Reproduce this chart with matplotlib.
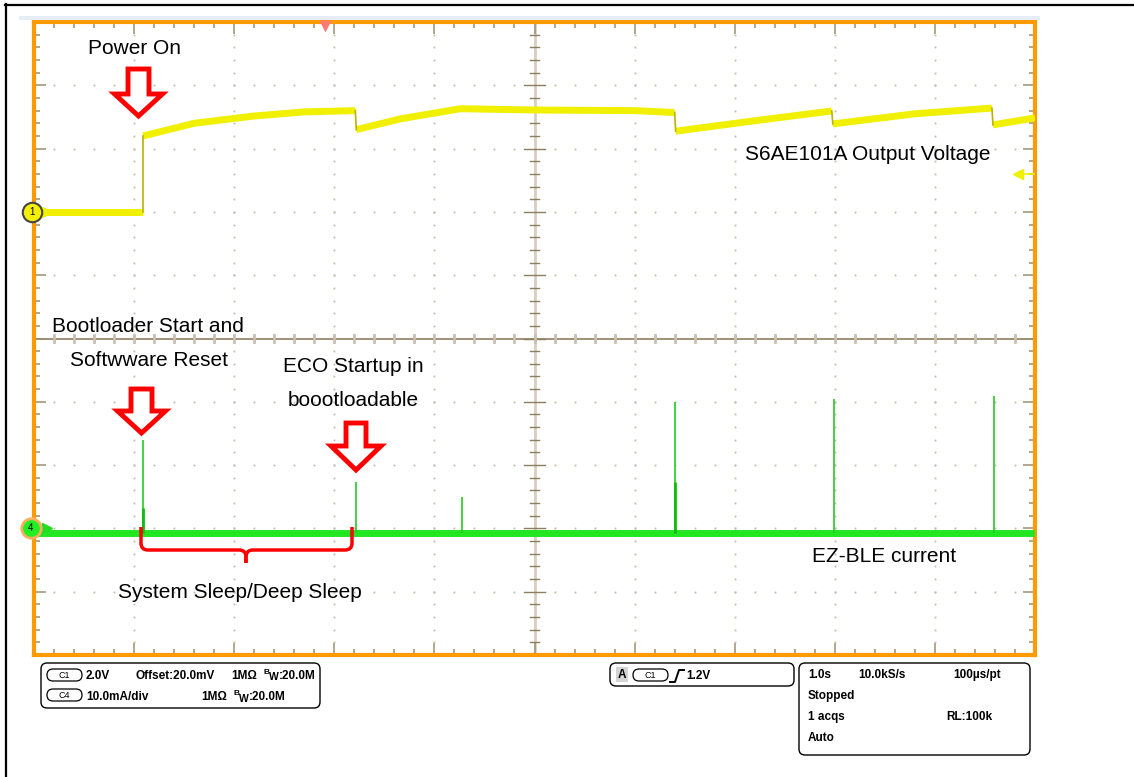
import matplotlib
matplotlib.use("Agg")
import matplotlib.pyplot as plt
import numpy as np
from matplotlib.patches import FancyBboxPatch, Polygon, Rectangle, PathPatch
from matplotlib.path import Path

plt.rcParams['font.family'] = ['Liberation Sans', 'DejaVu Sans']

# channel 1: output voltage (s, V) - repeated times mark the steps
ch1_t = [0.0, 1.09, 1.09, 1.6, 2.2, 2.7, 3.21, 3.22, 3.66, 4.26, 5.0, 6.0, 6.40,
         6.41, 7.2, 7.97, 7.98, 8.8, 9.57, 9.58, 10.0]
ch1_v = [0.0, 0.0, 2.40, 2.80, 3.03, 3.16, 3.20, 2.60, 2.94, 3.26, 3.22, 3.20, 3.14,
         2.55, 2.88, 3.19, 2.78, 3.10, 3.28, 2.75, 2.97]

# channel 4: EZ-BLE current (mA)
ch4_base = -0.8
spike_t = [1.09, 3.22, 4.28, 6.40, 7.99, 9.59]
spike_peak = [13.9, 7.3, 4.9, 20.0, 20.4, 20.9]
spike_body = [3.3, 0.0, 0.0, 7.3, 0.0, 0.0]

ch1_scale, ch1_pos = 2.0, 2.0     # V/div, div above centre
ch4_scale, ch4_pos = 10.0, -3.0   # mA/div

def v_div(v):
    return np.asarray(v) / ch1_scale + ch1_pos

def i_div(i):
    return np.asarray(i) / ch4_scale + ch4_pos

W, H = 1134, 777
fig = plt.figure(figsize=(W / 100, H / 100), dpi=100)
ax = fig.add_axes([34 / W, 1 - 655 / H, 1001 / W, 633 / H])
ax.set_xlim(0, 10)
ax.set_ylim(-5, 5)

# graticule
ax.set_xticks(np.arange(0, 11, 1))
ax.set_xticks(np.arange(0, 10.01, 0.2), minor=True)
ax.set_yticks(np.arange(-5, 6, 1))
ax.set_yticks(np.arange(-5, 5.01, 0.2), minor=True)
ax.tick_params(which='both', direction='in', top=True, right=True,
               labelbottom=False, labelleft=False, color='#9c8f70', width=1.1)
ax.tick_params(which='major', length=8.5)
ax.tick_params(which='minor', length=4.5)
for s in ax.spines.values():
    s.set_color('#ff9a00')
    s.set_linewidth(3)

dot_c = '#c4bca8'
ys = np.arange(-4.8, 4.81, 0.2)
xs = np.arange(0.2, 9.81, 0.2)
for gx in [1, 2, 3, 4, 6, 7, 8, 9]:
    ax.plot(np.full_like(ys, gx), ys, 's', ms=1.3, color=dot_c, mec='none')
for gy in [-4, -3, -2, -1, 1, 2, 3, 4]:
    ax.plot(xs, np.full_like(xs, gy), 's', ms=1.3, color=dot_c, mec='none')
ax.axvline(5, color='#d6cfc0', lw=2, zorder=1)
ax.axhline(0, color='#8c7f60', lw=1.2, zorder=1)
for yy in np.arange(-4.8, 4.81, 0.2):
    hw = 0.1 if abs(yy - round(yy)) < 1e-6 else 0.045
    ax.plot([5 - hw, 5 + hw], [yy, yy], color='#8c7f60', lw=1)
for xx in np.arange(0.2, 9.81, 0.2):
    ax.plot([xx, xx], [-0.05, 0.05], color='#c8c0b0', lw=2)

# channel 1 trace: thick band segments, thin steps
t1 = np.array(ch1_t)
y1 = v_div(ch1_v)
cuts = np.where(np.diff(t1) < 0.015)[0] + 1
start = 0
for c in list(cuts) + [len(t1)]:
    ax.plot(t1[start:c], y1[start:c], color='#f0f000', lw=5, solid_capstyle='butt', zorder=4)
    start = c
for c in cuts:
    ax.plot(t1[c - 1:c + 1], y1[c - 1:c + 1], color='#b8b400', lw=1.2, zorder=4)

# channel 4 trace
ax.plot([0, 10], i_div([ch4_base, ch4_base]), color='#22e622', lw=5,
        solid_capstyle='butt', zorder=4)
ax.vlines(spike_t, i_div(ch4_base), i_div(spike_peak), color='#22cc22', lw=1.2, zorder=4)
for st, sb in zip(spike_t, spike_body):
    if sb > 0:
        ax.vlines(st, i_div(ch4_base), i_div(sb), color='#11bb11', lw=2, zorder=4)

# channel markers
ax.plot([0.0, 0.13], [ch1_pos - 0.05, ch1_pos], color='#333333', lw=0.8, clip_on=False, zorder=5)
ax.plot(-0.02, ch1_pos, 'o', ms=14, mfc='#f5f000', mec='#444444', mew=1.5,
        clip_on=False, zorder=6)
ax.text(-0.02, ch1_pos, '1', ha='center', va='center', fontsize=7, zorder=7)
ax.plot(0.13, ch1_pos, '>', ms=7, color='#f0f000', clip_on=False, zorder=5)
ax.plot([0.0, 0.13], [ch4_pos - 0.05, ch4_pos], color='#333333', lw=0.8, clip_on=False, zorder=5)
ax.plot(-0.03, ch4_pos, 'o', ms=14, mfc='#22ee22', mec='#f5b060', mew=2,
        clip_on=False, zorder=6)
ax.text(-0.03, ch4_pos, '4', ha='center', va='center', fontsize=7, zorder=7)
ax.plot(0.13, ch4_pos, '>', ms=7, color='#22dd22', clip_on=False, zorder=5)

# trigger markers
ax.plot(9.83, v_div(1.2), '<', ms=7, color='#f0f000', zorder=5)
ax.plot([9.83, 10], [v_div(1.2)] * 2, color='#f0f000', lw=1.2, zorder=5)
ax.plot(2.91, 4.93, 'v', ms=8, color='#ff7a70', mec='none', clip_on=False, zorder=5)

# overlay in pixel coordinates
ov = fig.add_axes([0, 0, 1, 1], zorder=3)
ov.set_xlim(0, W)
ov.set_ylim(H, 0)
ov.axis('off')
ov.patch.set_visible(False)

ov.plot([5.5, 5.5], [4, H], color='black', lw=1.6)
ov.plot([5, W], [4.5, 4.5], color='black', lw=1.6)
ov.add_patch(Rectangle((19, 16), 1021, 4, color='#e6edf4', lw=0))


def hollow_arrow(xc, y_tip, y_top, head_h, shaft_hw, head_hw):
    pts = [(xc - shaft_hw, y_top), (xc + shaft_hw, y_top), (xc + shaft_hw, y_tip - head_h),
           (xc + head_hw, y_tip - head_h), (xc, y_tip), (xc - head_hw, y_tip - head_h),
           (xc - shaft_hw, y_tip - head_h)]
    ov.add_patch(Polygon(pts, closed=True, fc='white', ec='#ff0000', lw=3.5, joinstyle='miter'))


hollow_arrow(138.5, 116, 69, 22, 10.5, 24)
hollow_arrow(141.5, 433, 389, 22, 10.5, 24)
hollow_arrow(356, 470, 423, 24, 10, 25)

# bracket
x0, x1, xc, ytop, ymid, ybot = 141, 352, 246, 527, 550, 563
r = 7
for sgn, xe in [(1, x0), (-1, x1)]:
    verts = [(xe, ytop), (xe, ymid - r), (xe, ymid), (xe + sgn * r, ymid),
             (xc - sgn * r, ymid), (xc, ymid), (xc, ymid + r), (xc, ybot)]
    codes = [Path.MOVETO, Path.LINETO, Path.CURVE3, Path.CURVE3,
             Path.LINETO, Path.CURVE3, Path.CURVE3, Path.LINETO]
    ov.add_patch(PathPatch(Path(verts, codes), fc='none', ec='#ff0000', lw=2.5))

fs = 15
ov.text(134, 49, 'Power On', fontsize=fs, ha='center', va='center')
ov.text(745, 155, 'S6AE101A Output Voltage', fontsize=fs, va='center')
ov.text(52, 326, 'Bootloader Start and', fontsize=fs, va='center')
ov.text(70, 360, 'Softwware Reset', fontsize=fs, va='center')
ov.text(353, 366, 'ECO Startup in', fontsize=fs, ha='center', va='center')
ov.text(353, 400, 'boootloadable', fontsize=fs, ha='center', va='center')
ov.text(812, 556, 'EZ-BLE current', fontsize=fs, va='center')
ov.text(118, 593, 'System Sleep/Deep Sleep', fontsize=fs, va='center')

# status boxes
def box(x, y, w, h):
    ov.add_patch(FancyBboxPatch((x, y), w, h, boxstyle='round,pad=0,rounding_size=6',
                                fc='white', ec='black', lw=1))


def chan_oval(x, y, label):
    ov.add_patch(FancyBboxPatch((x, y - 6), 35, 12, boxstyle='round,pad=0,rounding_size=6',
                                fc='white', ec='black', lw=0.9))
    ov.text(x + 17.5, y, label, fontsize=6.5, ha='center', va='center')


def bold(x, y, s):
    ov.text(x, y, s, fontsize=8.5, fontweight='bold', va='center')


def bw(x, y):
    ov.text(x, y - 3.5, 'B', fontsize=6, fontweight='bold', va='center')
    ov.text(x + 4.5, y + 1.5, 'W', fontsize=7.5, fontweight='bold', va='center')
    ov.text(x + 14.5, y, ':20.0M', fontsize=8.5, fontweight='bold', va='center')


box(41, 663, 279, 45)
chan_oval(47, 675, 'C1')
bold(86, 676, '2.0V')
bold(136, 676, 'Offset:20.0mV')
bold(231, 676, '1MΩ')
bw(264, 676)
chan_oval(47, 695, 'C4')
bold(86, 697, '10.0mA/div')
bold(201, 697, '1MΩ')
bw(234, 697)

box(610, 663, 184, 23)
ov.add_patch(Rectangle((616, 667), 12, 15, color='#d4d4d4', lw=0))
ov.text(622, 675, 'A', fontsize=8.5, fontweight='bold', ha='center', va='center')
chan_oval(633, 675, 'C1')
ov.plot([670, 675, 677, 679, 684], [682, 682, 676, 670, 670], color='black', lw=1.4)
bold(686, 676, '1.2V')

box(799, 663, 231, 92)
bold(808, 675, '1.0s')
bold(858, 675, '10.0kS/s')
bold(953, 675, '100µs/pt')
bold(808, 696, 'Stopped')
bold(808, 717, '1 acqs')
bold(946, 717, 'RL:100k')
bold(808, 738, 'Auto')

fig.savefig('out.png', dpi=100)
